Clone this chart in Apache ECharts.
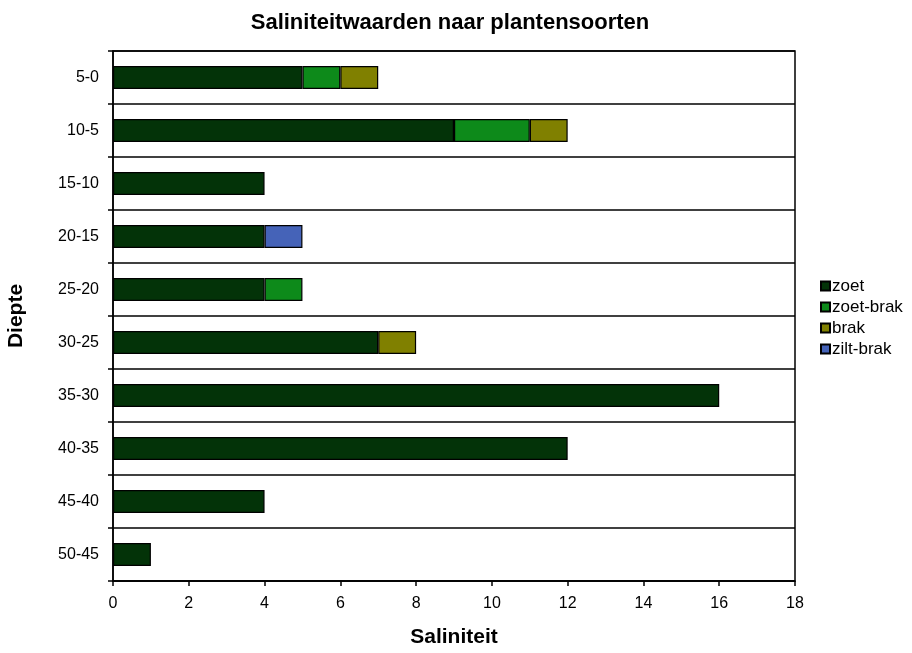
<!DOCTYPE html>
<html><head><meta charset="utf-8">
<script src="https://cdn.jsdelivr.net/npm/echarts@6/dist/echarts.min.js"></script>
<style>html,body{margin:0;padding:0;background:#fff}#c{width:912px;height:653px}</style>
</head><body><div id="c"></div>
<script>
const categories = ["5-0","10-5","15-10","20-15","25-20","30-25","35-30","40-35","45-40","50-45"];
const zoet      = [5, 9, 4, 4, 4, 7, 16, 12, 4, 1];
const zoetBrak  = [1, 2, 0, 0, 1, 0, 0, 0, 0, 0];
const brak      = [1, 1, 0, 0, 0, 1, 0, 0, 0, 0];
const ziltBrak  = [0, 0, 0, 1, 0, 0, 0, 0, 0, 0];
const seriesNames = ["zoet","zoet-brak","brak","zilt-brak"];
const colors = ["#033308","#0d8a1a","#808000","#4563b8"];
const xTicks = [0,2,4,6,8,10,12,14,16,18];

const chart = echarts.init(document.getElementById('c'), null, {renderer:'canvas'});
const dataSets = [zoet, zoetBrak, brak, ziltBrak];
const font = "Liberation Sans, Arial, sans-serif";
chart.setOption({
  animation:false,
  title:{text:"Saliniteitwaarden naar plantensoorten", left:445, top:7, textAlign:'center',
    textStyle:{fontFamily:font, fontSize:22, fontWeight:'bold', color:'#000'}},
  legend:{orient:'vertical', left:815, top:272, itemWidth:9, itemHeight:9, itemGap:3,
    textStyle:{fontFamily:font, fontSize:17, color:'#000', lineHeight:18, padding:[0,0,0,-3]},
    data: seriesNames.map(n=>({name:n, icon:'rect'}))},
  grid:{left:113, right:117, top:51, bottom:72, show:true, borderColor:'#000', borderWidth:1.5,
    containLabel:false, outerBoundsMode:'none'},
  xAxis:{type:'value', min:0, max:18, interval:2,
    name:"Saliniteit", nameLocation:'middle', nameGap:46,
    nameTextStyle:{fontFamily:font, fontSize:21, fontWeight:'bold', color:'#000'},
    axisLine:{show:true, lineStyle:{color:'#000', width:1.5}},
    axisTick:{show:true, length:5, lineStyle:{color:'#000', width:1.5}},
    axisLabel:{fontFamily:font, fontSize:16, color:'#000', margin:15,
      formatter: v => xTicks.includes(v) ? String(v) : ''},
    splitLine:{show:false}},
  yAxis:{type:'category', inverse:true, data:categories,
    name:"Diepte", nameLocation:'middle', nameGap:86, nameRotate:90,
    nameTextStyle:{fontFamily:font, fontSize:21, fontWeight:'bold', color:'#000'},
    axisLine:{show:true, lineStyle:{color:'#000', width:1.5}},
    axisTick:{show:true, length:5, lineStyle:{color:'#000', width:1.5}},
    axisLabel:{fontFamily:font, fontSize:16, color:'#000', margin:14},
    splitLine:{show:true, lineStyle:{color:'#000', width:1.5}}},
  series: dataSets.map((d,i)=>({
    name:seriesNames[i], type:'bar', stack:'s', barWidth:23,
    itemStyle:{color:colors[i], borderColor:'#000', borderWidth:1.2},
    data:d.map(v=> v===0 ? null : v)
  }))
});
</script></body></html>
